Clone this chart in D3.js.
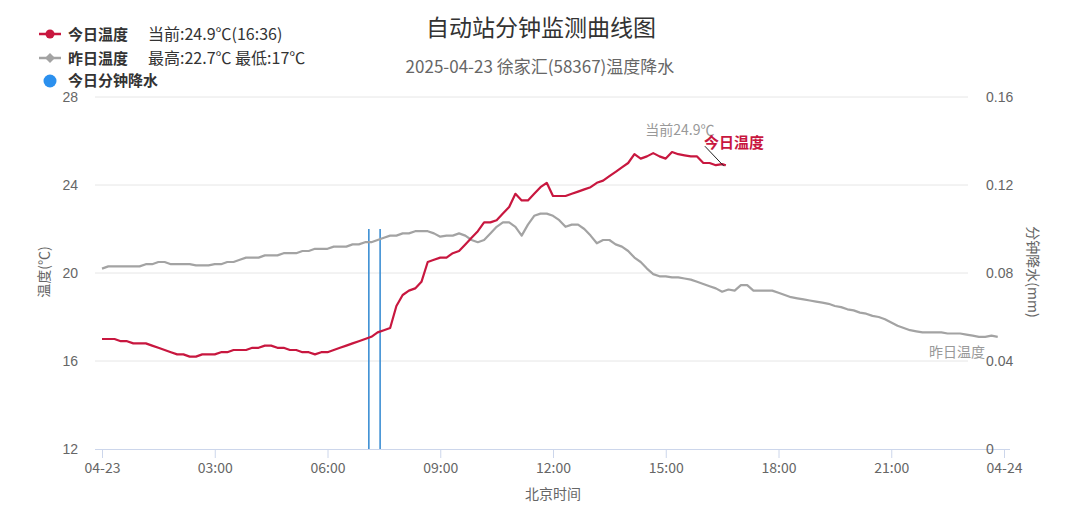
<!DOCTYPE html>
<html><head><meta charset="utf-8">
<script src="https://cdn.jsdelivr.net/npm/d3@7"></script>
<style>
html,body{margin:0;padding:0;background:#fff;}
svg{display:block;font-family:"Noto Sans CJK SC","Noto Sans",sans-serif;}
</style></head>
<body><svg id="c" width="1080" height="518"></svg>
<script>
// ---- data ----
const xTickLabels = ["04-23","03:00","06:00","09:00","12:00","15:00","18:00","21:00","04-24"];
const yLeftTicks = [12,16,20,24,28];
const yRightTicks = [0,0.04,0.08,0.12,0.16];
// today's temperature, 10-minute samples from 00:00, plus the current reading at 16:36
const todayTemps = [17.0,17.0,17.0,16.9,16.9,16.8,16.8,16.8,16.7,16.6,16.5,16.4,
 16.3,16.3,16.2,16.2,16.3,16.3,16.3,16.4,16.4,16.5,16.5,16.5,
 16.6,16.6,16.7,16.7,16.6,16.6,16.5,16.5,16.4,16.4,16.3,16.4,
 16.4,16.5,16.6,16.7,16.8,16.9,17.0,17.1,17.3,17.4,17.5,18.5,
 19.0,19.2,19.3,19.6,20.5,20.6,20.7,20.7,20.9,21.0,21.3,21.6,
 21.9,22.3,22.3,22.4,22.7,23.0,23.6,23.3,23.3,23.6,23.9,24.1,
 23.5,23.5,23.5,23.6,23.7,23.8,23.9,24.1,24.2,24.4,24.6,24.8,
 25.0,25.4,25.2,25.3,25.45,25.3,25.2,25.5,25.4,25.35,25.3,25.3,
 25.0,25.0,24.9,24.95];
const todayCurrent = {time:"16:36", value:24.9};
// yesterday's temperature, 10-minute samples from 00:00
const yesterdayTemps = [20.2,20.3,20.3,20.3,20.3,20.3,20.3,20.4,20.4,20.5,20.5,20.4,
 20.4,20.4,20.4,20.35,20.35,20.35,20.4,20.4,20.5,20.5,20.6,20.7,
 20.7,20.7,20.8,20.8,20.8,20.9,20.9,20.9,21.0,21.0,21.1,21.1,
 21.1,21.2,21.2,21.2,21.3,21.3,21.4,21.4,21.5,21.6,21.7,21.7,
 21.8,21.8,21.9,21.9,21.9,21.8,21.65,21.7,21.7,21.8,21.7,21.5,
 21.4,21.5,21.8,22.1,22.3,22.3,22.1,21.7,22.2,22.6,22.7,22.7,
 22.6,22.4,22.1,22.2,22.2,22.0,21.7,21.35,21.5,21.5,21.3,21.2,
 21.0,20.7,20.5,20.2,19.95,19.85,19.85,19.8,19.8,19.75,19.7,19.6,
 19.5,19.4,19.3,19.15,19.25,19.2,19.45,19.45,19.2,19.2,19.2,19.2,
 19.1,19.0,18.9,18.85,18.8,18.75,18.7,18.65,18.6,18.5,18.45,18.35,
 18.3,18.2,18.15,18.05,18.0,17.9,17.75,17.6,17.5,17.4,17.35,17.3,
 17.3,17.3,17.3,17.25,17.25,17.25,17.2,17.15,17.1,17.1,17.15,17.1];
// minute precipitation
const rainTimes = ["07:06","07:24"];
const rainValues = [0.1,0.1];

// ---- layout ----
const svg = d3.select("#c");
const toMin = s => { const [h,m] = s.split(":").map(Number); return h*60+m; };
const x = d3.scaleLinear().domain([0,1440]).range([102,1004]);
const yL = d3.scaleLinear().domain([12,28]).range([449,97]);
const yR = d3.scaleLinear().domain([0,0.16]).range([449,97]);
const gridX0 = 95, gridX1 = 968;

// gridlines
svg.append("g").selectAll("line").data(yLeftTicks.slice(1)).join("line")
  .attr("x1",gridX0).attr("x2",gridX1)
  .attr("y1",d=>yL(d)).attr("y2",d=>yL(d))
  .attr("stroke","#e6e6e6").attr("stroke-width",1);

// x axis
const xAxis = d3.axisBottom(x).tickValues(d3.range(0,1441,180))
  .tickFormat((d,i)=>xTickLabels[i]).tickSize(9).tickSizeOuter(0);
const gx = svg.append("g").attr("transform","translate(0,449)").call(xAxis);
gx.select(".domain").remove();
gx.append("line").attr("x1",gridX0).attr("x2",1010).attr("y1",0.5).attr("y2",0.5).attr("stroke","#ccd6eb");
gx.selectAll(".tick line").attr("stroke","#ccd6eb");
gx.selectAll(".tick text").attr("fill","#666").attr("font-size",14).attr("dy","0.85em")
  .style("font-family","'Noto Sans CJK SC',sans-serif");

// left axis
const gl = svg.append("g").attr("transform","translate(78,0)")
  .call(d3.axisLeft(yL).tickValues(yLeftTicks).tickSize(0).tickPadding(0));
gl.select(".domain").remove();
gl.selectAll(".tick text").attr("fill","#666").attr("font-size",14);

// right axis
const gr = svg.append("g").attr("transform","translate(986,0)")
  .call(d3.axisRight(yR).tickValues(yRightTicks).tickSize(0).tickPadding(0).tickFormat(d=>d===0?"0":d3.format(".2f")(d)));
gr.select(".domain").remove();
gr.selectAll(".tick text").attr("fill","#666").attr("font-size",14);

// axis titles
svg.append("text").attr("transform","translate(49,272) rotate(-90)")
  .attr("text-anchor","middle").attr("fill","#666").attr("font-size",14).text("温度(℃)");
svg.append("text").attr("transform","translate(1028,272) rotate(90)")
  .attr("text-anchor","middle").attr("fill","#666").attr("font-size",14).text("分钟降水(mm)");
svg.append("text").attr("x",553).attr("y",499).attr("text-anchor","middle")
  .attr("fill","#666").attr("font-size",14).text("北京时间");

// precipitation bars
svg.append("g").selectAll("line").data(rainTimes).join("line")
  .attr("x1",d=>x(toMin(d))).attr("x2",d=>x(toMin(d)))
  .attr("y1",yR(0)).attr("y2",(d,i)=>yR(rainValues[i]))
  .attr("stroke","#3d8fd4").attr("stroke-width",1.6);

// lines
const yestData = yesterdayTemps.map((v,i)=>[i*10,v]);
const todayData = todayTemps.map((v,i)=>[i*10,v]).concat([[toMin(todayCurrent.time),todayCurrent.value]]);
const line = d3.line().x(d=>x(d[0])).y(d=>yL(d[1]));
svg.append("path").datum(yestData).attr("d",line).attr("fill","none")
  .attr("stroke","#a3a3a3").attr("stroke-width",2.2).attr("stroke-linejoin","round");
svg.append("path").datum(todayData).attr("d",line).attr("fill","none")
  .attr("stroke","#c8173f").attr("stroke-width",2.2).attr("stroke-linejoin","round");

// end labels
const last = todayData[todayData.length-1];
const lx = x(last[0]), ly = yL(last[1]);
svg.append("line").attr("x1",lx-2).attr("y1",ly+1).attr("x2",lx-21).attr("y2",ly-19)
  .attr("stroke","#222").attr("stroke-width",1);
svg.append("text").attr("x",lx-46).attr("y",ly-30).attr("text-anchor","middle")
  .attr("fill","#999").attr("font-size",14).text("当前"+todayCurrent.value+"℃");
svg.append("text").attr("x",lx-22).attr("y",ly-17).attr("fill","#c8173f")
  .attr("font-size",15).attr("font-weight","bold").text("今日温度");
svg.append("text").attr("x",985).attr("y",357).attr("text-anchor","end")
  .attr("fill","#999").attr("font-size",14).text("昨日温度");

// title
svg.append("text").attr("x",541).attr("y",36).attr("text-anchor","middle")
  .attr("fill","#333").attr("font-size",23).text("自动站分钟监测曲线图");
svg.append("text").attr("x",540).attr("y",73).attr("text-anchor","middle")
  .attr("fill","#666").attr("font-size",17).text("2025-04-23 徐家汇(58367)温度降水");

// legend
const lg = svg.append("g");
const maxY = d3.max(yesterdayTemps);
lg.append("line").attr("x1",39).attr("x2",61).attr("y1",34).attr("y2",34).attr("stroke","#c8173f").attr("stroke-width",2.5);
lg.append("circle").attr("cx",50).attr("cy",34).attr("r",4.5).attr("fill","#c8173f");
lg.append("text").attr("x",68).attr("y",40).attr("fill","#333").attr("font-size",15).attr("font-weight","bold").text("今日温度");
lg.append("text").attr("x",148).attr("y",40).attr("fill","#333").attr("font-size",16).text("当前:"+todayCurrent.value+"℃("+todayCurrent.time+")");
lg.append("line").attr("x1",39).attr("x2",61).attr("y1",58).attr("y2",58).attr("stroke","#a3a3a3").attr("stroke-width",2.5);
lg.append("path").attr("d","M50,53 L55,58 L50,63 L45,58Z").attr("fill","#a3a3a3");
lg.append("text").attr("x",68).attr("y",64).attr("fill","#333").attr("font-size",15).attr("font-weight","bold").text("昨日温度");
lg.append("text").attr("x",148).attr("y",64).attr("fill","#333").attr("font-size",16).text("最高:"+maxY+"℃ 最低:17℃");
lg.append("circle").attr("cx",50).attr("cy",81).attr("r",6.5).attr("fill","#2b90ee");
lg.append("text").attr("x",68).attr("y",86).attr("fill","#333").attr("font-size",15).attr("font-weight","bold").text("今日分钟降水");
</script></body></html>
